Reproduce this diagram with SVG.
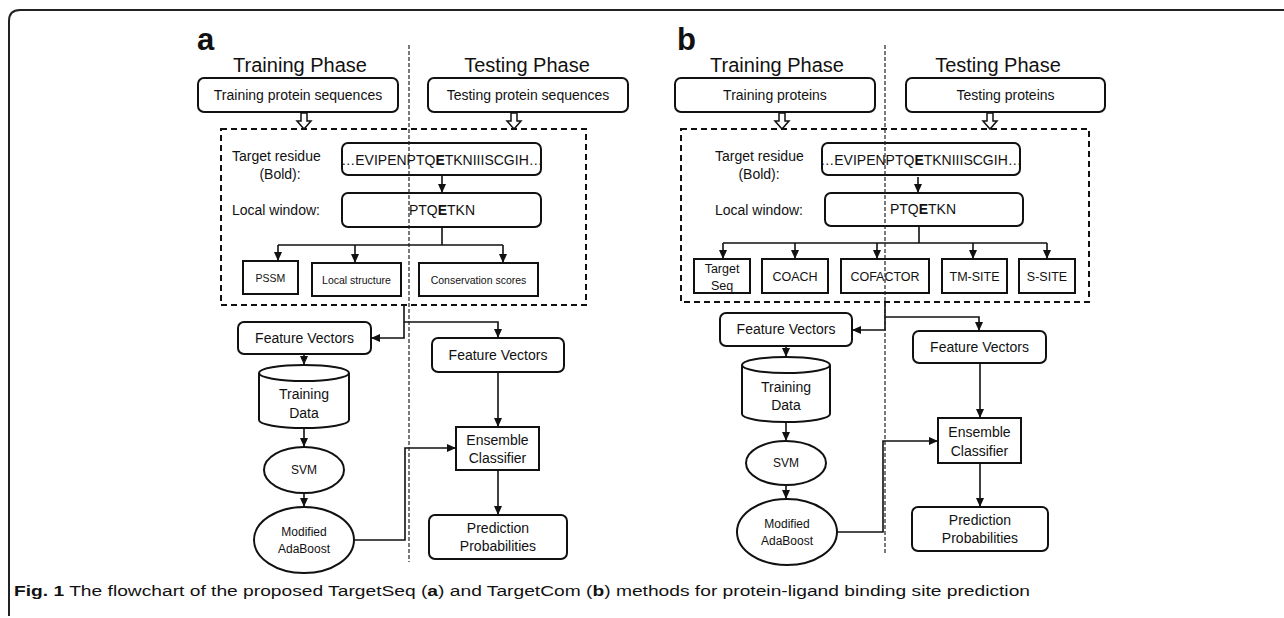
<svg xmlns="http://www.w3.org/2000/svg" width="1284" height="618" viewBox="0 0 1284 618">
<style>
text{font-family:"Liberation Sans",Arial,sans-serif;fill:#111}
.c{text-anchor:middle}
.s14{font-size:14px}
.s12{font-size:12px}
.s11{font-size:10.5px}
.s125{font-size:12.5px}
.ph{font-size:20px;text-anchor:middle}
.lbl{font-size:31px;font-weight:bold}
.box{fill:#fff;stroke:#111;stroke-width:2}
.ln{fill:none;stroke:#111;stroke-width:1.6}
.dbox{fill:none;stroke:#111;stroke-width:2;stroke-dasharray:6,4}
.div{fill:none;stroke:#222;stroke-width:1.2;stroke-dasharray:4,2}
.hol{fill:#fff;stroke:#111;stroke-width:1.5}
</style>
<defs>
<marker id="ah" markerWidth="9" markerHeight="8" refX="9" refY="4" orient="auto" markerUnits="userSpaceOnUse"><path d="M0,0 L9,4 L0,8 Z" fill="#111"/></marker>
</defs>
<rect width="1284" height="618" fill="#fff"/>
<g id="frame"><path d="M1284,10 H20 Q9,10 9,21 V616" fill="none" stroke="#222" stroke-width="2"/></g>

<!-- Panel a -->
<g id="a-label"><text x="197" y="50" class="lbl">a</text></g>
<g id="a-train-title"><text x="300" y="72" class="ph">Training Phase</text></g>
<g id="a-test-title"><text x="527" y="72" class="ph">Testing Phase</text></g>
<g id="a-train-seq"><rect x="198" y="78" width="200" height="34" rx="6" class="box"/><text x="298" y="100" class="c s14">Training protein sequences</text></g>
<g id="a-test-seq"><rect x="428" y="78" width="200" height="34" rx="6" class="box"/><text x="528" y="100" class="c s14">Testing protein sequences</text></g>
<g id="a-dashed"><rect x="221" y="129" width="365" height="176" class="dbox"/></g>
<g id="a-target-label"><text x="232" y="161" class="s14">Target residue</text><text x="280" y="179" class="c s14">(Bold):</text></g>
<g id="a-target"><rect x="342" y="143" width="199" height="32" rx="6" class="box"/><text x="442" y="165" class="c s14">…EVIPENPTQ<tspan font-weight="bold">E</tspan>TKNIIISCGIH…</text></g>
<g id="a-window-label"><text x="232" y="215" class="s14">Local window:</text></g>
<g id="a-window"><rect x="342" y="193" width="199" height="34" rx="6" class="box"/><text x="442" y="215" class="c s14">PTQ<tspan font-weight="bold">E</tspan>TKN</text></g>
<g id="a-pssm"><rect x="243" y="261" width="55" height="33" class="box"/><text x="270.5" y="282" class="c s11">PSSM</text></g>
<g id="a-local"><rect x="312" y="263" width="89" height="33" class="box"/><text x="356.5" y="284" class="c s11">Local structure</text></g>
<g id="a-cons"><rect x="419" y="263" width="119" height="33" class="box"/><text x="478.5" y="284" class="c s11">Conservation scores</text></g>
<g id="a-fv-train"><rect x="238" y="322" width="133" height="32" rx="6" class="box"/><text x="304.5" y="343" class="c s14">Feature Vectors</text></g>
<g id="a-fv-test"><rect x="432" y="338" width="132" height="34" rx="6" class="box"/><text x="498" y="360" class="c s14">Feature Vectors</text></g>
<g id="a-data"><path d="M259,373 V420 A45,8 0 0 0 349,420 V373" class="box"/><ellipse cx="304" cy="373" rx="45" ry="8" class="box"/><text x="304" y="399" class="c s14">Training</text><text x="304" y="418" class="c s14">Data</text></g>
<g id="a-svm"><ellipse cx="304" cy="470" rx="40" ry="23" class="box"/><text x="304" y="474" class="c s12">SVM</text></g>
<g id="a-ada"><ellipse cx="304" cy="540" rx="50" ry="33" class="box"/><text x="304" y="536" class="c s12">Modified</text><text x="304" y="553" class="c s12">AdaBoost</text></g>
<g id="a-ens"><rect x="456" y="427" width="83" height="43" class="box"/><text x="497.5" y="445" class="c s14">Ensemble</text><text x="497.5" y="463" class="c s14">Classifier</text></g>
<g id="a-pred"><rect x="429" y="515" width="138" height="44" rx="6" class="box"/><text x="498" y="533" class="c s14">Prediction</text><text x="498" y="551" class="c s14">Probabilities</text></g>

<!-- Panel b -->
<g id="b-label"><text x="677" y="50" class="lbl">b</text></g>
<g id="b-train-title"><text x="777" y="72" class="ph">Training Phase</text></g>
<g id="b-test-title"><text x="998" y="72" class="ph">Testing Phase</text></g>
<g id="b-train-prot"><rect x="675" y="78" width="200" height="34" rx="6" class="box"/><text x="775" y="100" class="c s14">Training proteins</text></g>
<g id="b-test-prot"><rect x="906" y="78" width="199" height="34" rx="6" class="box"/><text x="1005.5" y="100" class="c s14">Testing proteins</text></g>
<g id="b-dashed"><rect x="681" y="129" width="408" height="173" class="dbox"/></g>
<g id="b-target-label"><text x="715" y="161" class="s14">Target residue</text><text x="759" y="179" class="c s14">(Bold):</text></g>
<g id="b-target"><rect x="822" y="143" width="198" height="32" rx="6" class="box"/><text x="921" y="165" class="c s14">…EVIPENPTQ<tspan font-weight="bold">E</tspan>TKNIIISCGIH…</text></g>
<g id="b-window-label"><text x="715" y="215" class="s14">Local window:</text></g>
<g id="b-window"><rect x="825" y="193" width="198" height="33" rx="6" class="box"/><text x="923" y="214" class="c s14">PTQ<tspan font-weight="bold">E</tspan>TKN</text></g>
<g id="b-tseq"><rect x="694" y="259" width="56" height="34" class="box"/><text x="722" y="273" class="c s125">Target</text><text x="722" y="290" class="c s125">Seq</text></g>
<g id="b-coach"><rect x="762" y="259" width="66" height="34" class="box"/><text x="795" y="281" class="c s125">COACH</text></g>
<g id="b-cofactor"><rect x="841" y="259" width="88" height="34" class="box"/><text x="885" y="281" class="c s125">COFACTOR</text></g>
<g id="b-tmsite"><rect x="942" y="259" width="65" height="34" class="box"/><text x="974.5" y="281" class="c s125">TM-SITE</text></g>
<g id="b-ssite"><rect x="1019" y="259" width="56" height="34" class="box"/><text x="1047" y="281" class="c s125">S-SITE</text></g>
<g id="b-fv-train"><rect x="720" y="313" width="132" height="33" rx="6" class="box"/><text x="786" y="334" class="c s14">Feature Vectors</text></g>
<g id="b-fv-test"><rect x="913" y="331" width="133" height="32" rx="6" class="box"/><text x="979.5" y="352" class="c s14">Feature Vectors</text></g>
<g id="b-data"><path d="M742,365 V414 A44,8 0 0 0 830,414 V365" class="box"/><ellipse cx="786" cy="365" rx="44" ry="8" class="box"/><text x="786" y="392" class="c s14">Training</text><text x="786" y="410" class="c s14">Data</text></g>
<g id="b-svm"><ellipse cx="786" cy="463" rx="40" ry="22" class="box"/><text x="786" y="467" class="c s12">SVM</text></g>
<g id="b-ada"><ellipse cx="787" cy="532" rx="50" ry="33" class="box"/><text x="787" y="528" class="c s12">Modified</text><text x="787" y="545" class="c s12">AdaBoost</text></g>
<g id="b-ens"><rect x="938" y="418" width="83" height="45" class="box"/><text x="979.5" y="437" class="c s14">Ensemble</text><text x="979.5" y="456" class="c s14">Classifier</text></g>
<g id="b-pred"><rect x="912" y="507" width="136" height="44" rx="6" class="box"/><text x="980" y="525" class="c s14">Prediction</text><text x="980" y="543" class="c s14">Probabilities</text></g>

<g id="connectors">
<path class="hol" d="M301,113 H307 V121 H311 L304,129 L297,121 H301 Z"/>
<path class="hol" d="M511,113 H517 V121 H521 L514,129 L507,121 H511 Z"/>
<path class="hol" d="M779,113 H785 V121 H789 L782,129 L775,121 H779 Z"/>
<path class="hol" d="M987,113 H993 V121 H997 L990,129 L983,121 H987 Z"/>
<path class="ln" d="M442,175 V193" marker-end="url(#ah)"/>
<path class="ln" d="M442,227 V245 M278,245 H503"/>
<path class="ln" d="M278,245 V261" marker-end="url(#ah)"/>
<path class="ln" d="M355,245 V263" marker-end="url(#ah)"/>
<path class="ln" d="M503,245 V263" marker-end="url(#ah)"/>
<path class="ln" d="M404,305 V338 H371" marker-end="url(#ah)"/>
<path class="ln" d="M404,322 H498 V338" marker-end="url(#ah)"/>
<path class="ln" d="M304,354 V365" marker-end="url(#ah)"/>
<path class="ln" d="M304,428 V447" marker-end="url(#ah)"/>
<path class="ln" d="M304,493 V507" marker-end="url(#ah)"/>
<path class="ln" d="M354,540 H405 V448 H456" marker-end="url(#ah)"/>
<path class="ln" d="M498,372 V427" marker-end="url(#ah)"/>
<path class="ln" d="M498,470 V515" marker-end="url(#ah)"/>
<path class="ln" d="M918,177 V193" marker-end="url(#ah)"/>
<path class="ln" d="M919,226 V243 M723,243 H1047"/>
<path class="ln" d="M723,243 V259" marker-end="url(#ah)"/>
<path class="ln" d="M795,243 V259" marker-end="url(#ah)"/>
<path class="ln" d="M877,243 V259" marker-end="url(#ah)"/>
<path class="ln" d="M973,243 V259" marker-end="url(#ah)"/>
<path class="ln" d="M1047,243 V259" marker-end="url(#ah)"/>
<path class="ln" d="M885,302 V330 H852" marker-end="url(#ah)"/>
<path class="ln" d="M885,317 H979 V331" marker-end="url(#ah)"/>
<path class="ln" d="M786,346 V357" marker-end="url(#ah)"/>
<path class="ln" d="M786,422 V441" marker-end="url(#ah)"/>
<path class="ln" d="M786,485 V499" marker-end="url(#ah)"/>
<path class="ln" d="M837,532 H883 V441 H938" marker-end="url(#ah)"/>
<path class="ln" d="M980,363 V418" marker-end="url(#ah)"/>
<path class="ln" d="M980,463 V507" marker-end="url(#ah)"/>
</g>
<g id="dividers">
<path class="div" d="M409,45 V562"/>
<path class="div" d="M885,45 V553"/>
</g>
<g id="caption"><text x="14" y="596" font-size="15.5" textLength="1016" lengthAdjust="spacingAndGlyphs"><tspan font-weight="bold">Fig. 1</tspan> The flowchart of the proposed TargetSeq (<tspan font-weight="bold">a</tspan>) and TargetCom (<tspan font-weight="bold">b</tspan>) methods for protein-ligand binding site prediction</text></g>
</svg>
